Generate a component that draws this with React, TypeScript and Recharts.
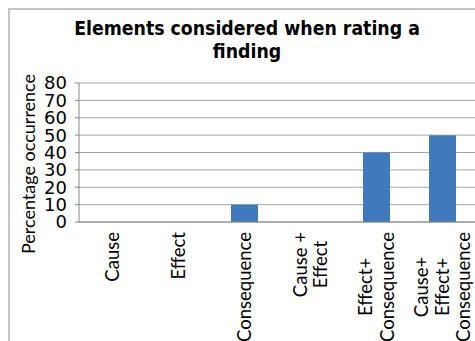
import React from "react";
import { BarChart, Bar, XAxis, YAxis, CartesianGrid } from "recharts";

// category labels use "\n" for line breaks
const categories = [
  "Cause",
  "Effect",
  "Consequence",
  "Cause +\nEffect",
  "Effect+\nConsequence",
  "Cause+\nEffect+\nConsequence",
];
const occurrence = [0, 0, 10, 0, 40, 50];
const yTicks = [0, 10, 20, 30, 40, 50, 60, 70, 80];
const edgeTicks = [0, 1, 2, 3, 4, 5, 6];

const chartData = categories.map((name, i) => ({
  name,
  value: occurrence[i],
}));

const LABEL_FONT = "Lato, 'Liberation Sans', sans-serif";
const LABEL_SIZE = 18.5;
const AXIS_COLOR = "#868686";

let ctx: CanvasRenderingContext2D | null = null;
function measure(text: string): number {
  if (!ctx) ctx = document.createElement("canvas").getContext("2d");
  if (!ctx) return text.length * LABEL_SIZE * 0.5;
  ctx.font = `${LABEL_SIZE}px Lato`;
  return ctx.measureText(text).width;
}

// vertical, multi-line category label; lines centred on the longest one
function CategoryTick({ x, y, payload }: any) {
  const lines = String(payload.value).split("\n");
  const longest = Math.max(...lines.map(measure));
  const lineGap = 21;
  const top = y + 10;
  const x0 = x - ((lines.length - 1) * lineGap) / 2;
  return (
    <g>
      {lines.map((line, i) => {
        const lx = x0 + i * lineGap;
        const ly = top + (longest - measure(line)) / 2;
        return (
          <text
            key={i}
            x={lx}
            y={ly}
            transform={`rotate(-90 ${lx} ${ly})`}
            textAnchor="end"
            dominantBaseline="central"
            fontFamily={LABEL_FONT}
            fontSize={LABEL_SIZE}
            fill="#000"
          >
            {line}
          </text>
        );
      })}
    </g>
  );
}

function YLabel() {
  return (
    <text
      x={28}
      y={164}
      transform="rotate(-90 28 164)"
      textAnchor="middle"
      dominantBaseline="central"
      fontFamily={LABEL_FONT}
      fontSize={18}
      fill="#000"
    >
      Percentage occurrence
    </text>
  );
}

export default function App() {
  return (
    <div
      style={{
        position: "fixed",
        left: 0,
        top: 0,
        width: 475,
        height: 341,
        overflow: "hidden",
        background: "#fff",
      }}
    >
      <div
        style={{
          position: "absolute",
          left: 8,
          top: 8,
          width: 600,
          height: 600,
          borderLeft: "2px solid #c4c4c4",
          borderTop: "2px solid #c4c4c4",
        }}
      />
      <div
        style={{
          position: "absolute",
          left: 47,
          width: 400,
          top: 17,
          textAlign: "center",
          fontFamily: "'DejaVu Sans Condensed', 'DejaVu Sans', sans-serif",
          fontWeight: "bold",
          fontSize: 19.3,
          lineHeight: "23px",
          color: "#000",
        }}
      >
        Elements considered when rating a
        <br />
        finding
      </div>
      <div style={{ position: "absolute", left: 0, top: 0 }}>
        <BarChart
          width={480}
          height={341}
          data={chartData}
          margin={{ top: 83, right: 5, left: 0, bottom: 9 }}
        >
          <CartesianGrid vertical={false} stroke="#a6a6a6" />
          <XAxis
            xAxisId="edges"
            type="number"
            domain={[0, 6]}
            allowDataOverflow
            ticks={edgeTicks}
            tick={false}
            tickSize={5}
            tickLine={{ stroke: AXIS_COLOR }}
            axisLine={false}
            height={0}
          />
          <XAxis
            dataKey="name"
            interval={0}
            tickLine={false}
            tickSize={0}
            tickMargin={0}
            axisLine={{ stroke: AXIS_COLOR }}
            tick={<CategoryTick />}
            height={110}
          />
          <YAxis
            width={79}
            domain={[0, 80]}
            ticks={yTicks}
            interval={0}
            tickSize={4}
            tickMargin={8}
            tickLine={{ stroke: AXIS_COLOR }}
            axisLine={{ stroke: AXIS_COLOR }}
            tick={{
              fill: "#000",
              fontSize: 18,
              fontFamily: "'DejaVu Sans', sans-serif",
            }}
            label={<YLabel />}
          />
          <Bar
            dataKey="value"
            fill="#4179bd"
            barSize={27}
            isAnimationActive={false}
          />
        </BarChart>
      </div>
    </div>
  );
}
